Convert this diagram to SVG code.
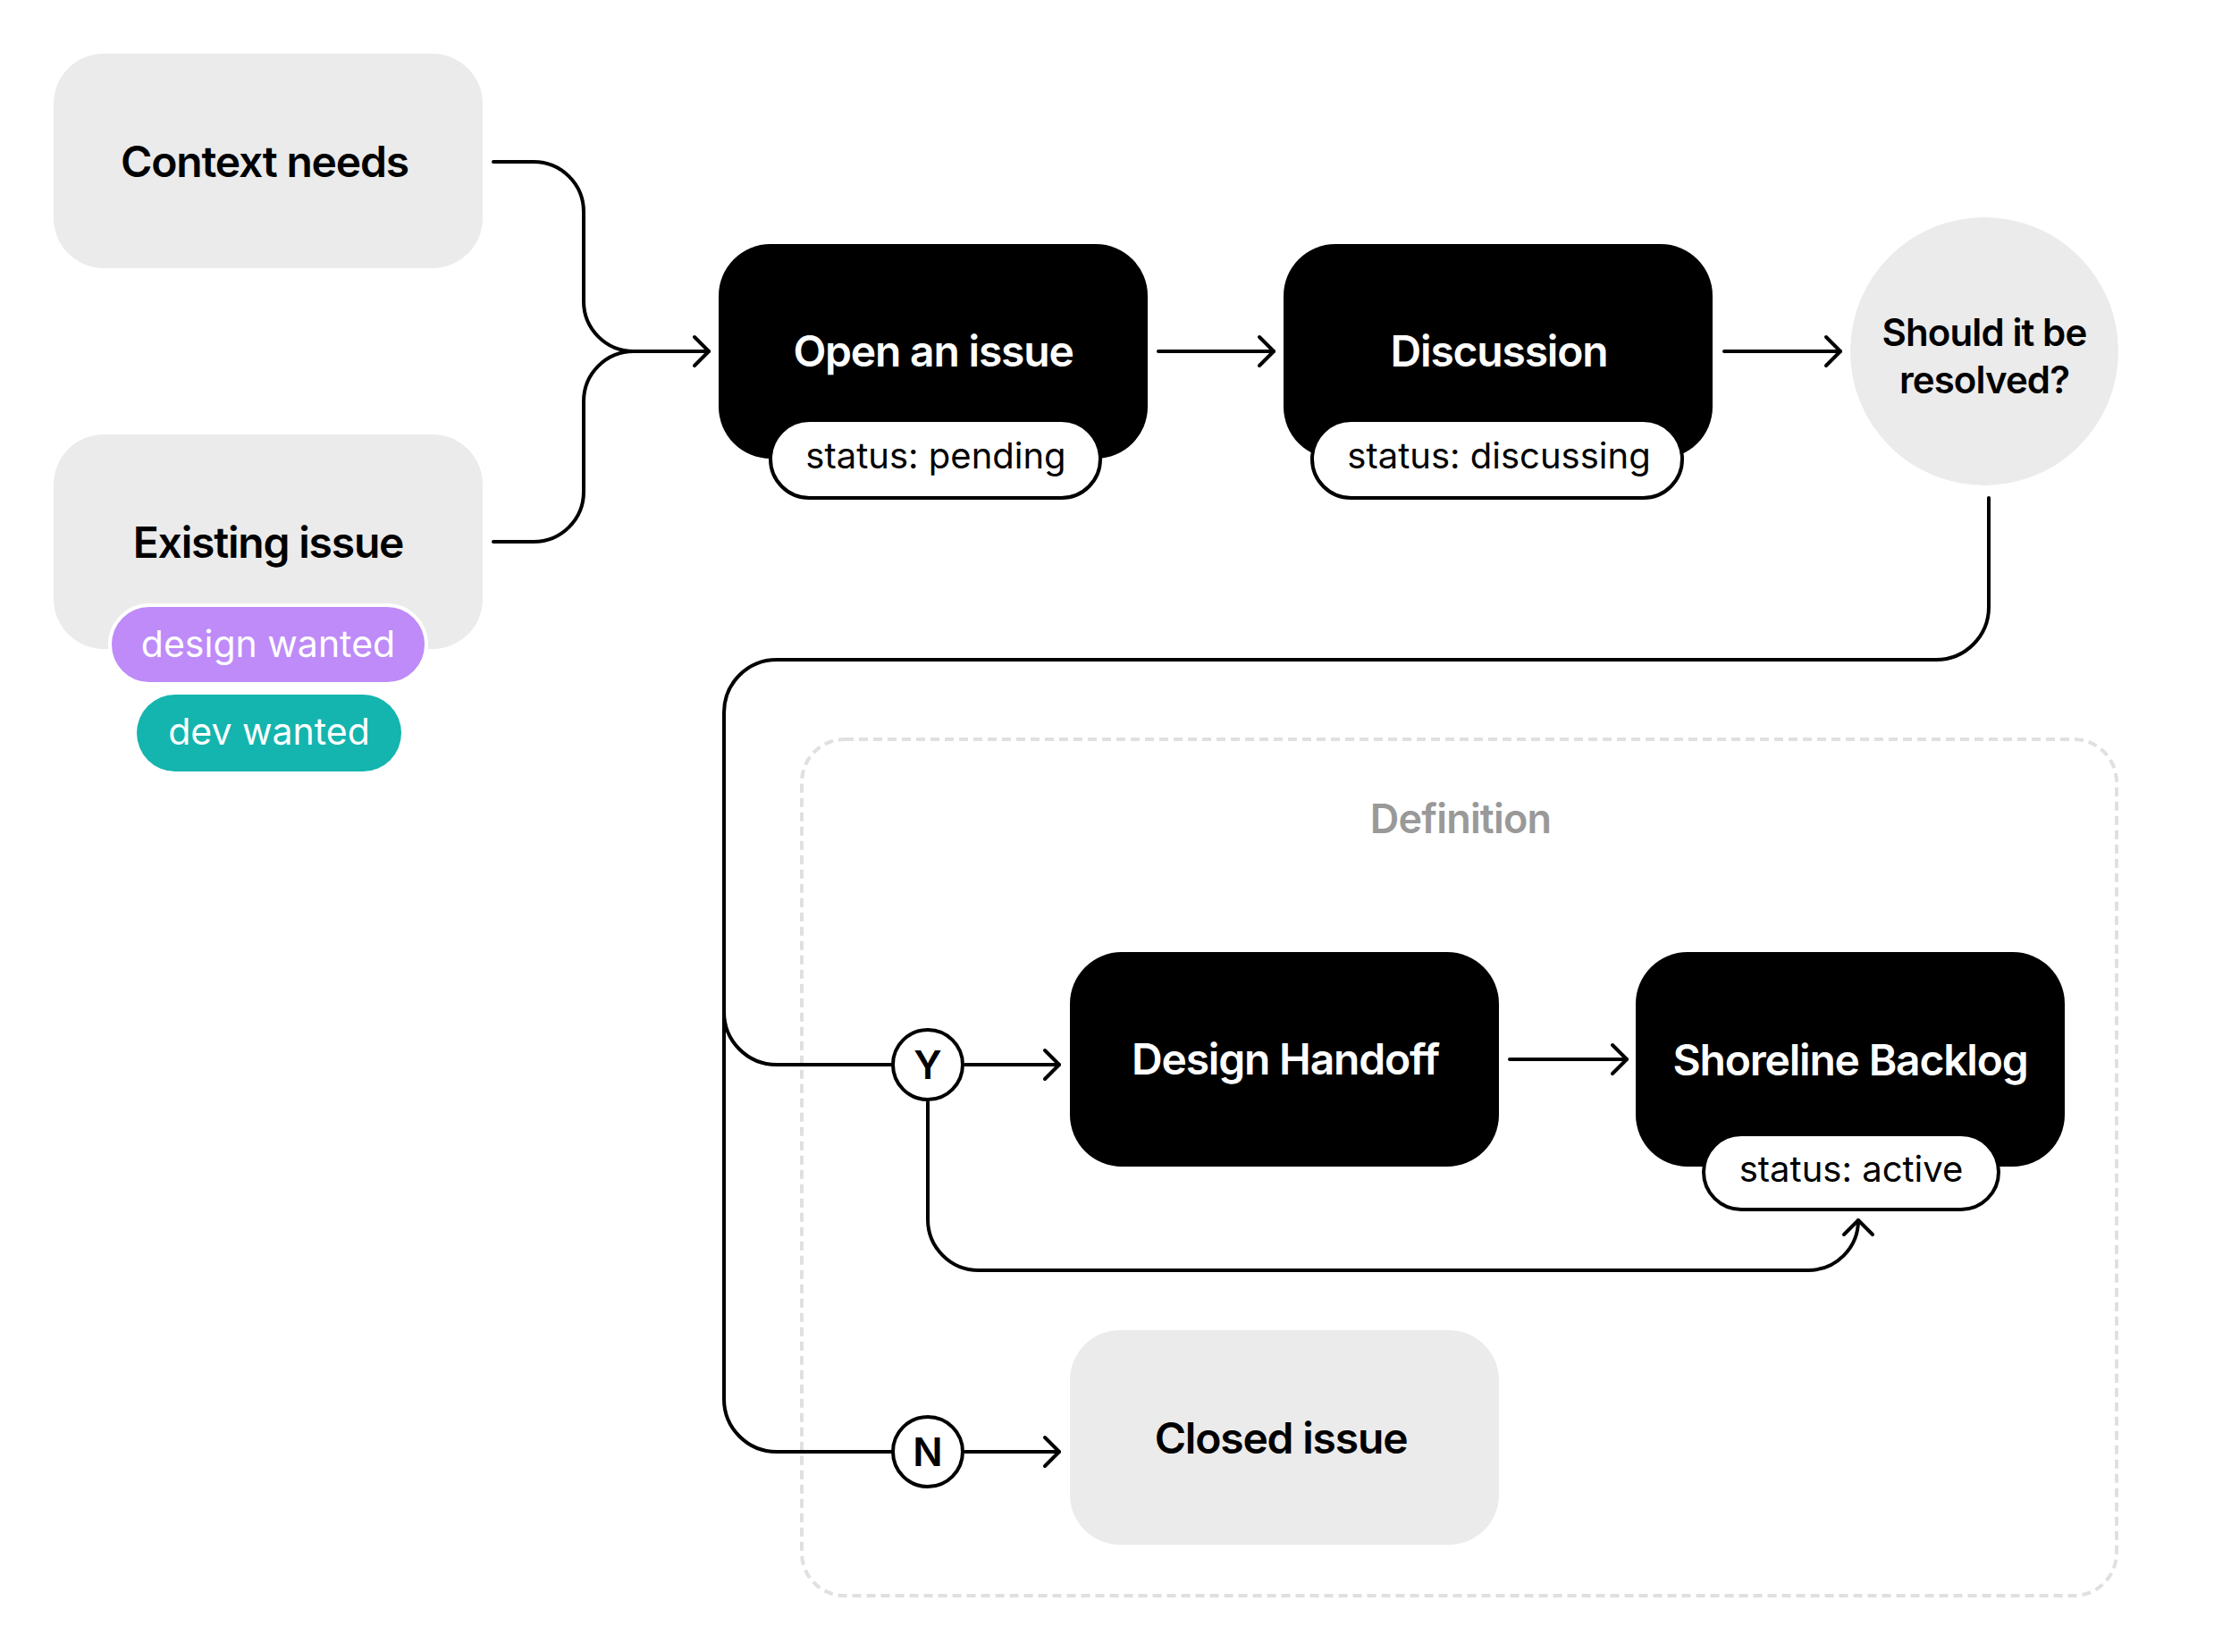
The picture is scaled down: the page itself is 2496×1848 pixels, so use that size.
<svg xmlns="http://www.w3.org/2000/svg" width="2496" height="1848" viewBox="0 0 2496 1848">
<style>
  text { font-family: Inter, "Noto Sans", "Liberation Sans", sans-serif; text-anchor: middle; }
  .title { font-size: 48px; font-weight: 600; letter-spacing: -1.2px; }
  .dark { fill: #000; }
  .light { fill: #ebebeb; }
  .tw { fill: #fff; }
  .tb { fill: #000; }
  .pill { fill: #fff; stroke: #000; stroke-width: 4; }
  .ptxt { font-size: 40px; font-weight: 400; fill: #000; }
  .tag { font-size: 41px; font-weight: 400; fill: #fff; }
  .conn { fill: none; stroke: #000; stroke-width: 4; stroke-linecap: round; stroke-linejoin: round; }
  .yn { fill: #fff; stroke: #000; stroke-width: 4; }
  .yntxt { font-size: 44px; font-weight: 600; fill: #000; }
  .q { font-size: 42px; font-weight: 600; fill: #000; letter-spacing: -0.9px; }
</style>
<defs>
  <marker id="arrow" markerUnits="userSpaceOnUse" viewBox="-24 -24 48 48" markerWidth="48" markerHeight="48" refX="0" refY="0" orient="auto">
    <path d="M -16 -16 L 0 0 L -16 16" fill="none" stroke="#000" stroke-width="4" stroke-linecap="round" stroke-linejoin="round"/>
  </marker>
</defs>
<rect width="2496" height="1848" fill="#fff"/>

<g id="definition-group">
  <rect x="897" y="827" width="1471" height="958" rx="48" fill="none" stroke="#e0e0e0" stroke-width="4" stroke-dasharray="10 6"/>
  <text x="1634" y="932" style="font-size:45px;font-weight:600;fill:#999;letter-spacing:-0.8px">Definition</text>
</g>

<g id="connectors">
  <path class="conn" d="M 552 181 H 597 A 56 56 0 0 1 653 237 V 337 A 56 56 0 0 0 709 393 H 793" marker-end="url(#arrow)"/>
  <path class="conn" d="M 552 606 H 597 A 56 56 0 0 0 653 550 V 449 A 56 56 0 0 1 709 393"/>
  <path class="conn" d="M 1296 393 H 1425" marker-end="url(#arrow)"/>
  <path class="conn" d="M 1929 393 H 2059" marker-end="url(#arrow)"/>
  <path class="conn" d="M 2225 557 V 679 A 59 59 0 0 1 2166 738 H 869 A 59 59 0 0 0 810 797 V 1132 A 59 59 0 0 0 869 1191 H 997"/>
  <path class="conn" d="M 810 1130 V 1565 A 59 59 0 0 0 869 1624 H 997"/>
  <path class="conn" d="M 1080 1191 H 1185" marker-end="url(#arrow)"/>
  <path class="conn" d="M 1038 1233 V 1364 A 57 57 0 0 0 1095 1421 H 2023 A 56 56 0 0 0 2079 1365" marker-end="url(#arrow)"/>
  <path class="conn" d="M 1689 1185 H 1820" marker-end="url(#arrow)"/>
  <path class="conn" d="M 1080 1624 H 1185" marker-end="url(#arrow)"/>
</g>

<g id="context-needs">
  <rect class="light" x="60" y="60" width="480" height="240" rx="56"/>
  <text class="title tb" x="296" y="198">Context needs</text>
</g>

<g id="existing-issue">
  <rect class="light" x="60" y="486" width="480" height="240" rx="56"/>
  <text class="title tb" x="300" y="624">Existing issue</text>
  <g id="tag-design-wanted">
    <rect x="123" y="677" width="354" height="88" rx="44" fill="#be8bf9" stroke="#fff" stroke-width="4"/>
    <text class="tag" x="300" y="735">design wanted</text>
  </g>
  <g id="tag-dev-wanted">
    <rect x="153" y="777" width="296" height="86" rx="43" fill="#13b5ae"/>
    <text class="tag" x="301" y="833">dev wanted</text>
  </g>
</g>

<g id="open-issue">
  <rect class="dark" x="804" y="273" width="480" height="240" rx="58"/>
  <text class="title tw" x="1044" y="410">Open an issue</text>
  <rect class="pill" x="862" y="470" width="369" height="87" rx="43.5"/>
  <text class="ptxt" x="1047" y="524">status: pending</text>
</g>

<g id="discussion">
  <rect class="dark" x="1436" y="273" width="480" height="240" rx="58"/>
  <text class="title tw" x="1677" y="410">Discussion</text>
  <rect class="pill" x="1468" y="470" width="414" height="87" rx="43.5"/>
  <text class="ptxt" x="1677" y="524">status: discussing</text>
</g>

<g id="should-resolve">
  <circle cx="2220" cy="393" r="150" fill="#ebebeb"/>
  <text class="q" x="2220" y="387">Should it be</text>
  <text class="q" x="2220" y="440">resolved?</text>
</g>

<g id="yes-node">
  <circle class="yn" cx="1038" cy="1191" r="39"/>
  <text class="yntxt" x="1038" y="1207">Y</text>
</g>

<g id="no-node">
  <circle class="yn" cx="1038" cy="1624" r="39"/>
  <text class="yntxt" x="1038" y="1640">N</text>
</g>

<g id="design-handoff">
  <rect class="dark" x="1197" y="1065" width="480" height="240" rx="58"/>
  <text class="title tw" x="1438" y="1202">Design Handoff</text>
</g>

<g id="shoreline-backlog">
  <rect class="dark" x="1830" y="1065" width="480" height="240" rx="58"/>
  <text class="title tw" x="2070" y="1203">Shoreline Backlog</text>
  <rect class="pill" x="1906" y="1269" width="330" height="84" rx="42"/>
  <text class="ptxt" x="2071" y="1322">status: active</text>
</g>

<g id="closed-issue">
  <rect class="light" x="1197" y="1488" width="480" height="240" rx="56"/>
  <text class="title tb" x="1433" y="1626">Closed issue</text>
</g>
</svg>
